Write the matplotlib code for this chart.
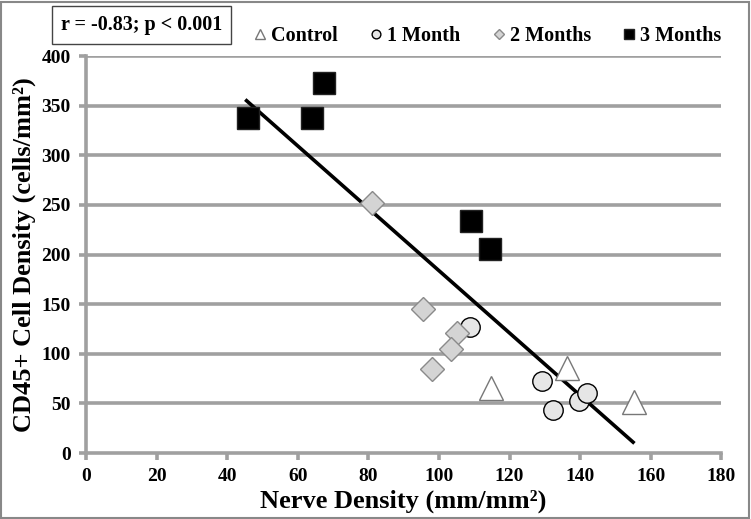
import matplotlib.pyplot as plt
from matplotlib.patches import Rectangle

plt.rcParams['font.family'] = ['Liberation Serif', 'DejaVu Serif']
plt.rcParams['font.weight'] = 'bold'

# data
ctrl_x = [114.8, 136.3, 155.3]
ctrl_y = [66, 86, 51]
m1_x = [108.8, 129.3, 132.4, 139.7, 142.0]
m1_y = [127, 73, 43, 52, 61]
m2_x = [81.1, 95.5, 105.2, 103.5, 98.1]
m2_y = [252, 145, 121, 105, 85]
m3_x = [45.9, 64.1, 67.5, 109.1, 114.5]
m3_y = [338, 338, 373, 234, 206]
fit_x = [45.5, 155.0]
fit_y = [355, 11]

xticks = list(range(0, 181, 20))
yticks = list(range(0, 401, 50))

grey = '#a0a0a0'

fig = plt.figure(figsize=(7.51, 5.19), dpi=100)
ax = fig.add_axes([0.1145, 0.127, 0.846, 0.765])

for y in yticks[1:]:
    ax.axhline(y, color=grey, lw=2.6, zorder=0)

ax.plot(fit_x, fit_y, color='black', lw=2.6, zorder=2)
ax.plot(ctrl_x, ctrl_y, ls='none', marker='^', ms=17, mfc='white', mec='#777777', mew=1, zorder=3, label='Control')
ax.plot(m1_x, m1_y, ls='none', marker='o', ms=14, mfc='#e6e6e6', mec='black', mew=1, zorder=3, label='1 Month')
ax.plot(m2_x, m2_y, ls='none', marker='D', ms=12, mfc='#d4d4d4', mec='#8a8a8a', mew=1, zorder=3, label='2 Months')
ax.plot(m3_x, m3_y, ls='none', marker='s', ms=16, mfc='black', mec='#222222', mew=1, zorder=4, label='3 Months')

ax.set_xlim(0, 180)
ax.set_ylim(0, 400)
ax.set_xticks(xticks)
ax.set_yticks(yticks)
for s in ['top', 'right']:
    ax.spines[s].set_visible(False)
for s in ['left', 'bottom']:
    ax.spines[s].set_color(grey)
    ax.spines[s].set_linewidth(2.6)
ax.tick_params(colors=grey, width=2.6, length=5, labelsize=14, labelcolor='black', pad=6)
for lab in ax.get_xticklabels() + ax.get_yticklabels():
    lab.set_fontweight('bold')

ax.set_xlabel('Nerve Density (mm/mm²)', fontsize=19, fontweight='bold', labelpad=3)
ax.set_ylabel('CD45+ Cell Density (cells/mm²)', fontsize=19, fontweight='bold', labelpad=4)

leg = fig.legend(loc='upper right', bbox_to_anchor=(0.985, 0.985), ncol=4, frameon=False,
                 markerscale=0.45, handletextpad=0.15, columnspacing=1.5, handlelength=0.8,
                 prop={'size': 14.5, 'weight': 'bold'})

fig.text(0.188, 0.952, 'r = -0.83; p < 0.001', fontsize=14.5, ha='center', va='center',
         bbox=dict(boxstyle='square,pad=0.45', fc='white', ec='#444444', lw=1))

fig.patches.append(Rectangle((0.001, 0.002), 0.997, 0.995, transform=fig.transFigure,
                             fill=False, ec='#888888', lw=1.5))

fig.savefig('out.png', dpi=100)
